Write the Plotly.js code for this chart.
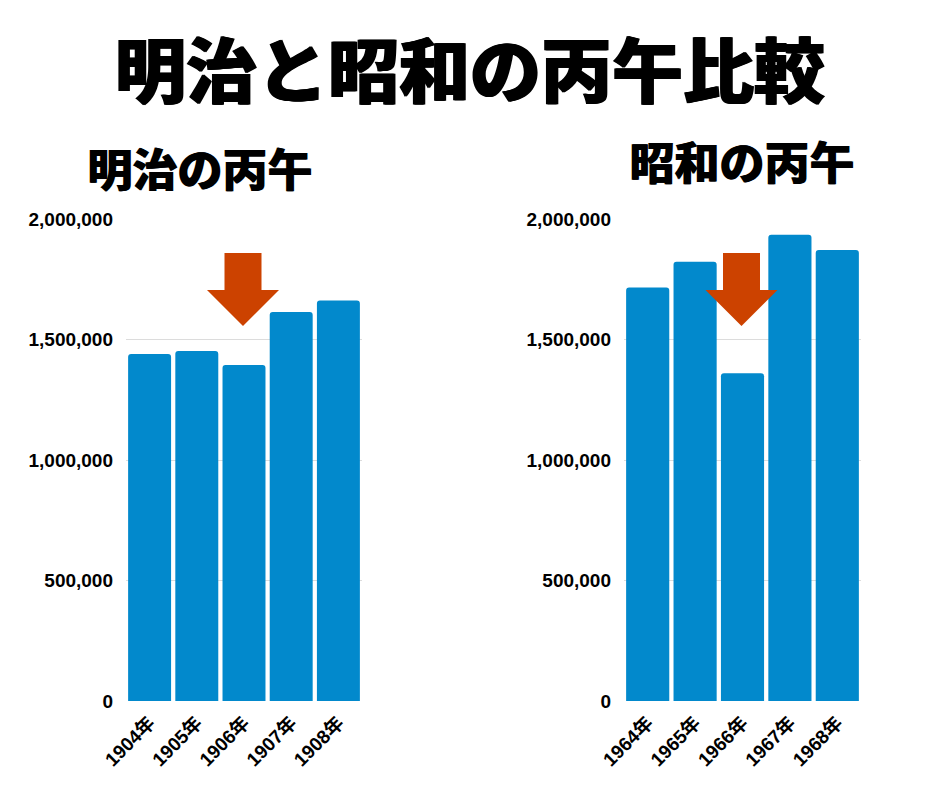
<!DOCTYPE html>
<html><head><meta charset="utf-8">
<script src="https://cdn.plot.ly/plotly-3.0.1.min.js"></script>
<style>body{margin:0;padding:0;background:#fff}#chart{width:940px;height:788px}</style>
</head><body><div id="chart"></div>
<script>
const meijiYears = ['1904年','1905年','1906年','1907年','1908年'];
const meijiBirths = [1440000, 1452000, 1394000, 1614000, 1662000];
const showaYears = ['1964年','1965年','1966年','1967年','1968年'];
const showaBirths = [1716000, 1823000, 1360000, 1935000, 1871000];
const yTicks = [0, 500000, 1000000, 1500000, 2000000];

const W = 940, H = 788;
const px = x => x / W;
const py = y => (H - y) / H;
function arrow(cx) {
  // pixel-based decoration path, converted to paper coordinates
  const pts = [[cx-18.5,253],[cx+18.5,253],[cx+18.5,290],[cx+36,290],[cx,326],[cx-36,290],[cx-18.5,290]];
  return 'M' + pts.map(p => px(p[0]).toFixed(5) + ',' + py(p[1]).toFixed(5)).join(' L') + ' Z';
}

const barColor = '#0289cc';
const tickFont = {family: 'Liberation Sans, Arial, sans-serif', size: 19, color: '#000', weight: 700};
const xTickFont = {family: 'Liberation Sans, Arial, "Noto Sans CJK JP", sans-serif', size: 19, color: '#000', weight: 700};

const traces = [
  {type: 'bar', x: meijiYears, y: meijiBirths, xaxis: 'x', yaxis: 'y', marker: {color: barColor}, hoverinfo: 'x+y'},
  {type: 'bar', x: showaYears, y: showaBirths, xaxis: 'x2', yaxis: 'y2', marker: {color: barColor}, hoverinfo: 'x+y'}
];

const yax = {
  range: [0, 2000000], tickvals: yTicks, tickformat: ',d', showgrid: true, gridcolor: '#dcdcdc', gridwidth: 1,
  zeroline: false, showline: false, ticks: '', tickfont: tickFont, ticklabelstandoff: 12,
  domain: [py(701), py(219)], fixedrange: true
};
const xax = {
  type: 'category', tickangle: -45, tickfont: xTickFont, showline: false, ticks: '', showgrid: false,
  ticklabelstandoff: 6, fixedrange: true
};

const titleFont = {family: '"Noto Sans CJK JP", sans-serif', color: '#000', weight: 900};
const layout = {
  width: W, height: H, margin: {l: 0, r: 0, t: 0, b: 0}, paper_bgcolor: '#fff', plot_bgcolor: '#fff',
  showlegend: false, bargap: 0.09, barcornerradius: 3,
  xaxis: Object.assign({}, xax, {domain: [px(126), px(362)], anchor: 'y'}),
  yaxis: Object.assign({}, yax, {anchor: 'x'}),
  xaxis2: Object.assign({}, xax, {domain: [px(624), px(861)], anchor: 'y2'}),
  yaxis2: Object.assign({}, yax, {anchor: 'x2'}),
  shapes: [
    {type: 'path', xref: 'paper', yref: 'paper', path: arrow(243), fillcolor: '#cc4200', line: {width: 0}},
    {type: 'path', xref: 'paper', yref: 'paper', path: arrow(741.5), fillcolor: '#cc4200', line: {width: 0}}
  ],
  annotations: [
    {text: '明治と昭和の丙午比較', xref: 'paper', yref: 'paper', x: px(470), y: py(66), xanchor: 'center', yanchor: 'middle',
     showarrow: false, font: Object.assign({}, titleFont, {size: 71, shadow: '1px 0 0 #000, -1px 0 0 #000'})},
    {text: '明治の丙午', xref: 'paper', yref: 'paper', x: px(199), y: py(167), xanchor: 'center', yanchor: 'middle',
     showarrow: false, font: Object.assign({}, titleFont, {size: 45, shadow: '1px 0 0 #000'})},
    {text: '昭和の丙午', xref: 'paper', yref: 'paper', x: px(741), y: py(161), xanchor: 'center', yanchor: 'middle',
     showarrow: false, font: Object.assign({}, titleFont, {size: 45, shadow: '1px 0 0 #000'})}
  ]
};
Plotly.newPlot('chart', traces, layout, {staticPlot: true, displayModeBar: false});
</script></body></html>
